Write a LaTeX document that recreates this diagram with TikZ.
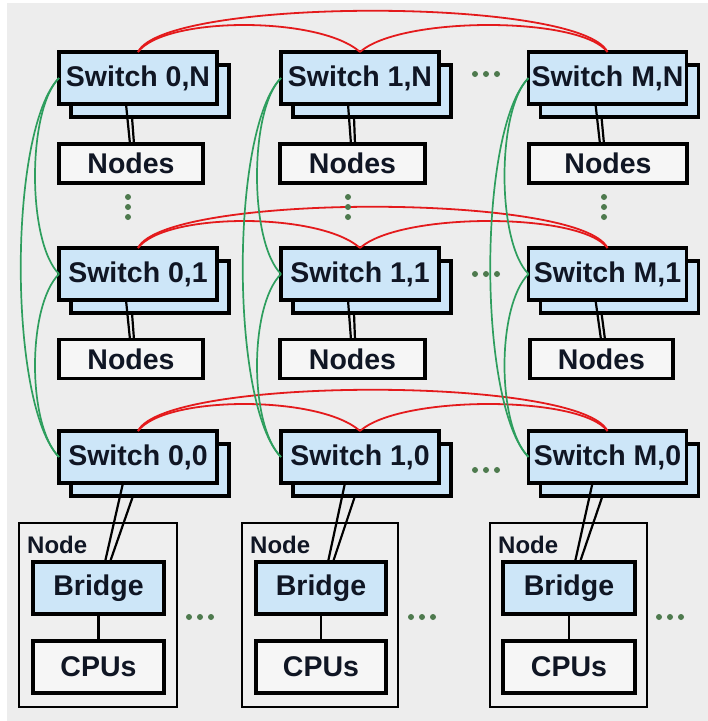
\documentclass[tikz,border=0pt]{standalone}
\usepackage{fontspec}
\setmainfont{Liberation Sans}
\usetikzlibrary{calc}
\definecolor{canvas}{HTML}{EDEDED}
\definecolor{swfill}{HTML}{CDE6F8}
\definecolor{boxfill}{HTML}{F6F6F6}
\definecolor{nodefill}{HTML}{EFEFEF}
\definecolor{ink}{HTML}{101624}
\definecolor{redlink}{HTML}{E41A1C}
\definecolor{greenlink}{HTML}{2E9E5E}
\definecolor{dotgreen}{HTML}{4E7A4E}
\begin{document}
\begin{tikzpicture}[x=1pt,y=-1pt,
  lbl/.style={font=\fontsize{28.5}{30}\bfseries\selectfont, text=ink, inner sep=0pt, outer sep=0pt},
  switchbox/.style={lbl, draw=black, line width=3.2pt, fill=swfill, minimum width=158pt, minimum height=52pt,
    preaction={draw=black, fill=swfill, line width=3.2pt, transform canvas={xshift=12pt, yshift=-13pt}}},
  nodesbox/.style={lbl, draw=black, line width=3.2pt, fill=boxfill, minimum height=39pt},
  bridgebox/.style={lbl, draw=black, line width=3.2pt, fill=swfill, minimum height=52pt},
  cpubox/.style={lbl, draw=black, line width=3.2pt, fill=boxfill, minimum height=52pt},
  container/.style={draw=black, line width=2.6pt, fill=nodefill, minimum height=184pt, inner sep=0pt, outer sep=0pt},
  nodelabel/.style={font=\fontsize{24}{26}\bfseries\selectfont, text=ink, inner sep=0pt, anchor=west},
  wire/.style={draw=black, line width=2.2pt},
  ring/.style={draw=redlink, line width=1.8pt},
  column/.style={draw=greenlink, line width=1.7pt},
  dot/.style={fill=dotgreen}
]
\useasboundingbox (0,0) rectangle (708,721);
\fill[white] (0,0) rectangle (708,721);
\fill[canvas] (7,3) rectangle (708,721);

% switch grid, each with a second plane behind it
\node[switchbox] (s0N) at (138,78) {Switch 0,N};
\node[switchbox] (s1N) at (360,78) {Switch 1,N};
\node[switchbox] (sMN) at (607.5,78) {Switch M,N};
\node[switchbox] (s01) at (138,274) {Switch 0,1};
\node[switchbox] (s11) at (360,274) {Switch 1,1};
\node[switchbox] (sM1) at (607.5,274) {Switch M,1};
\node[switchbox] (s00) at (138,457) {Switch 0,0};
\node[switchbox] (s10) at (360,457) {Switch 1,0};
\node[switchbox] (sM0) at (607.5,457) {Switch M,0};

% node groups under the upper rows
\node[nodesbox, minimum width=144pt] (n0N) at (131,163.5) {Nodes};
\node[nodesbox, minimum width=145pt] (n1N) at (352.5,163.5) {Nodes};
\node[nodesbox, minimum width=158pt] (nMN) at (608,163.5) {Nodes};
\node[nodesbox, minimum width=144pt] (n01) at (131,359) {Nodes};
\node[nodesbox, minimum width=145pt] (n11) at (352.5,359) {Nodes};
\node[nodesbox, minimum width=143pt] (nM1) at (601.5,359) {Nodes};

% switch to node-group links (double wires)
\foreach \s/\n in {s0N/n0N,s1N/n1N,sMN/nMN,s01/n01,s11/n11,sM1/nM1}{
  \draw[wire] ($(\s.south west)+(67,0)$) -- ($(\n.north west)+(71,0)$);
  \draw[wire] ($(\s.south west)+(73,13)$) -- ($(\n.north west)+(75,0)$);
}

% node detail at the bottom row
\node[container, minimum width=158pt] (c0) at (98,615) {};
\node[container, minimum width=156pt] (c1) at (320,615) {};
\node[container, minimum width=157pt] (cM) at (568.5,615) {};
\node[nodelabel] (l0) at ($(c0.north west)+(8,22)$) {Node};
\node[nodelabel] (l1) at ($(c1.north west)+(8,22)$) {Node};
\node[nodelabel] (lM) at ($(cM.north west)+(8,22)$) {Node};

\node[bridgebox, minimum width=131pt] (b0) at (98.5,588) {Bridge};
\node[bridgebox, minimum width=130pt] (b1) at (321,588) {Bridge};
\node[bridgebox, minimum width=132pt] (bM) at (569,588) {Bridge};
\node[cpubox, minimum width=131pt] (p0) at (98.5,667) {CPUs};
\node[cpubox, minimum width=130pt] (p1) at (321,667) {CPUs};
\node[cpubox, minimum width=132pt] (pM) at (569,667) {CPUs};

\foreach \b/\p in {b0/p0,b1/p1,bM/pM}{
  \draw[wire] (\b) -- (\p);
}
\foreach \s/\b in {s00/b0,s10/b1,sM0/bM}{
  \draw[wire] ($(\s.south west)+(64,0)$) -- ($(\b.north west)+(72,0)$);
  \draw[wire] ($(\s.south west)+(74,13)$) -- ($(\b.north west)+(77,0)$);
}

% row rings (red)
\foreach \a/\b/\c in {s0N/s1N/sMN,s01/s11/sM1,s00/s10/sM0}{
  \draw[ring] (\a.north) .. controls +(27,-55) and +(-27,-55) .. (\c.north);
  \draw[ring] (\a.north) .. controls +(27,-36) and +(-40,-36) .. (\b.north);
  \draw[ring] (\b.north) .. controls +(40,-36) and +(-27,-36) .. (\c.north);
}

% column rings (green)
\foreach \t/\m/\u in {s0N/s01/s00,s1N/s11/s10,sMN/sM1/sM0}{
  \draw[column] (\t.west) .. controls +(-32,32) and +(-32,-32) .. (\m.west);
  \draw[column] (\m.west) .. controls +(-32,32) and +(-32,-32) .. (\u.west);
  \draw[column] (\t.west) .. controls +(-51,52) and +(-51,-52) .. (\u.west);
}

% ellipses
\foreach \y in {74,274,470}{
  \foreach \x in {475,486,497}{ \fill[dot] (\x,\y) circle (3pt); }
}
\foreach \x in {128,348,604}{
  \foreach \y in {197,207,217}{ \fill[dot] (\x,\y) circle (3pt); }
}
\foreach \x in {189,411,659}{
  \foreach \d in {0,11,22}{ \fill[dot] (\x+\d,617) circle (3pt); }
}
\end{tikzpicture}
\end{document}
